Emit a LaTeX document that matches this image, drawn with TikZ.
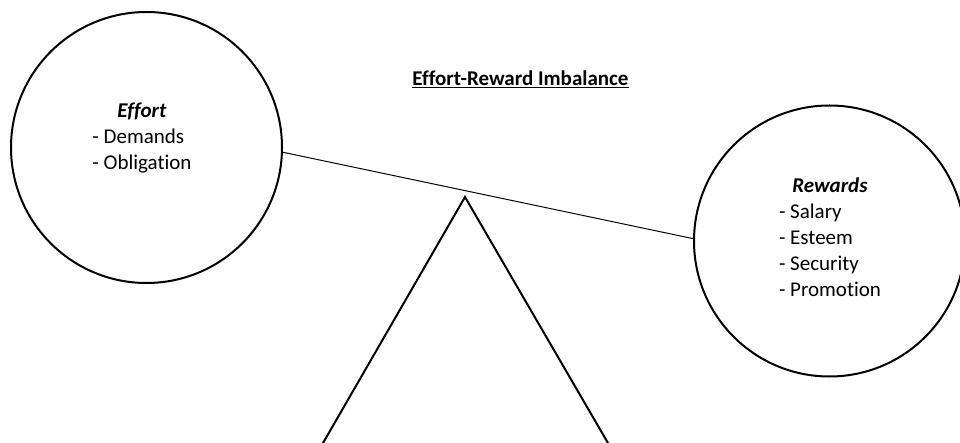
\documentclass[tikz,border=0pt]{standalone}
\usepackage{fontspec}
\setmainfont{Carlito}[Ligatures={NoCommon}]
\begin{document}
\begin{tikzpicture}[x=1pt,y=-1pt,
  ring/.style={draw, circle, line width=2pt, minimum size=271pt, inner sep=0pt},
  body/.style={font=\fontsize{21}{26}\selectfont, anchor=base, inner sep=0pt},
  beam/.style={line width=1pt},
  fulcrum/.style={line width=2pt, line join=miter}]
\useasboundingbox (0,0) rectangle (960,443);
\node[ring] (effort) at (146.5,147.5) {};
\node[ring] (rewards) at (829.5,241) {};
\node[body] (title) at (520.5,86) {\textbf{\underline{Effort-Reward Imbalance}}};
\node[body] (efforttext) at (142,118) {\begin{tabular}[t]{@{}l@{}}\multicolumn{1}{@{}c@{}}{\textbf{\textit{Effort}}}\\- Demands\\- Obligation\end{tabular}};
\node[body] (rewardstext) at (830,193) {\begin{tabular}[t]{@{}l@{}}\multicolumn{1}{@{}c@{}}{\textbf{\textit{Rewards}}}\\- Salary\\- Esteem\\- Security\\- Promotion\end{tabular}};
\draw[beam] (effort.-2) -- (rewards.179);
\coordinate (baseL) at (321.3,446);
\coordinate (apex) at (465,197);
\coordinate (baseR) at (609.7,446);
\draw[fulcrum] (baseL) -- (apex) -- (baseR);
\end{tikzpicture}
\end{document}
